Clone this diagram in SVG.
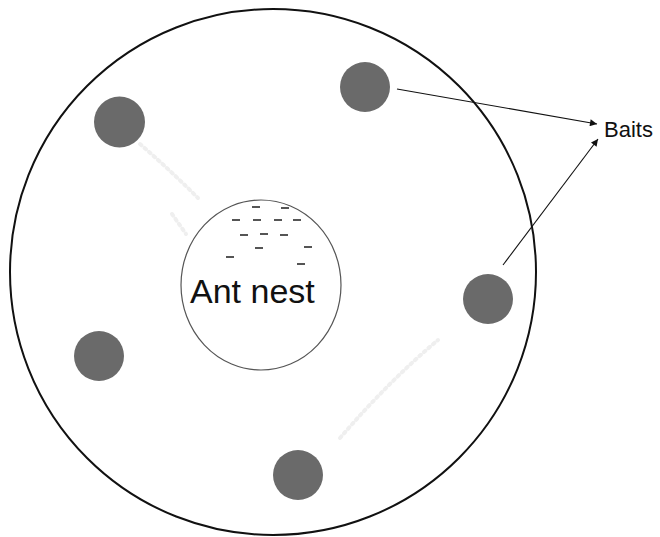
<svg xmlns="http://www.w3.org/2000/svg" width="660" height="537" viewBox="0 0 660 537">
<defs>
<style>
.bait{fill:#6a6a6a;}
.dash{stroke:#555;stroke-width:2;}
.arrow{stroke:#111;stroke-width:1.1;fill:none;marker-end:url(#ah);}
.trail{stroke:#efefef;stroke-width:4;fill:none;stroke-dasharray:2 4;stroke-linecap:round;}
text{font-family:"Liberation Sans",Arial,sans-serif;fill:#111;}
</style>
<marker id="ah" viewBox="0 0 10 10" refX="10" refY="5" markerWidth="9" markerHeight="7" markerUnits="userSpaceOnUse" orient="auto">
<path d="M0,0 L10,5 L0,10 Z" fill="#111"/>
</marker>
</defs>
<rect width="660" height="537" fill="#fff"/>
<g id="arena">
<circle cx="273" cy="272" r="263" fill="none" stroke="#111" stroke-width="2"/>
</g>
<g id="trails">
<path class="trail" d="M140,144 Q170,170 198,198"/>
<path class="trail" d="M172,214 L186,234"/>
<path class="trail" d="M340,438 Q390,380 438,340"/>
</g>
<g id="nest">
<ellipse cx="261" cy="285" rx="80" ry="85" fill="none" stroke="#555" stroke-width="1.2"/>
<g id="ants">
<line class="dash" x1="252" y1="207" x2="260" y2="207"/>
<line class="dash" x1="281" y1="208" x2="289" y2="208"/>
<line class="dash" x1="232" y1="220" x2="240" y2="220"/>
<line class="dash" x1="253" y1="220" x2="261" y2="220"/>
<line class="dash" x1="274" y1="220" x2="282" y2="220"/>
<line class="dash" x1="293" y1="220" x2="301" y2="220"/>
<line class="dash" x1="240" y1="235" x2="248" y2="235"/>
<line class="dash" x1="260" y1="234" x2="268" y2="234"/>
<line class="dash" x1="280" y1="235" x2="288" y2="235"/>
<line class="dash" x1="255" y1="248" x2="263" y2="248"/>
<line class="dash" x1="304" y1="247" x2="312" y2="247"/>
<line class="dash" x1="226" y1="257" x2="234" y2="257"/>
<line class="dash" x1="297" y1="264" x2="305" y2="264"/>
</g>
<text x="190" y="303" font-size="34">Ant nest</text>
</g>
<g id="bait1"><circle class="bait" cx="365" cy="87" r="25"/></g>
<g id="bait2"><circle class="bait" cx="119.5" cy="122" r="25.5"/></g>
<g id="bait3"><circle class="bait" cx="99" cy="356" r="25"/></g>
<g id="bait4"><circle class="bait" cx="298" cy="475" r="25"/></g>
<g id="bait5"><circle class="bait" cx="488" cy="299" r="25"/></g>
<g id="label"><text x="604" y="137" font-size="22">Baits</text></g>
<g id="connectors">
<line class="arrow" x1="397" y1="89" x2="597" y2="124"/>
<line class="arrow" x1="503" y1="265" x2="598" y2="139"/>
</g>
</svg>
